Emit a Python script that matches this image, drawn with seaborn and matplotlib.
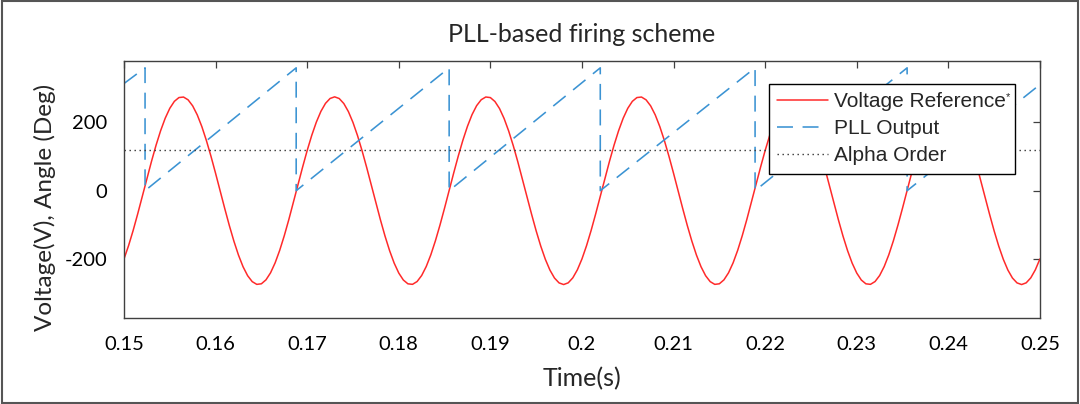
import numpy as np
import matplotlib
matplotlib.use("Agg")
import matplotlib.pyplot as plt
from matplotlib.patches import Rectangle
import seaborn as sns

# ---------------- data ----------------
# Voltage reference, sampled every 0.5 ms from 0.15 s to 0.25 s
volt_t0 = 0.15
volt_dt = 0.0005
voltage_ref = [
    -200.0, -161.1, -116.5, -67.7, -16.6, 35.1, 85.6, 133.1, 175.8, 212.3,
    241.3, 261.8, 272.9, 274.4, 266.2, 248.5, 222.1, 187.8, 146.8, 100.6,
    50.9, -0.7, -52.2, -101.9, -147.9, -188.7, -222.9, -249.1, -266.5, -274.5,
    -272.8, -261.3, -240.7, -211.5, -174.8, -131.9, -84.3, -33.8, 17.9, 69.0,
    117.7, 162.2, 200.9, 232.5, 255.9, 270.2, 275.0, 270.0, 255.4, 231.8,
    200.0, 161.1, 116.5, 67.7, 16.6, -35.1, -85.6, -133.1, -175.8, -212.3,
    -241.3, -261.8, -272.9, -274.4, -266.2, -248.5, -222.1, -187.8, -146.8, -100.6,
    -50.9, 0.7, 52.2, 101.9, 147.9, 188.7, 222.9, 249.1, 266.5, 274.5,
    272.8, 261.3, 240.7, 211.5, 174.8, 131.9, 84.3, 33.8, -17.9, -69.0,
    -117.7, -162.2, -200.9, -232.5, -255.9, -270.2, -275.0, -270.0, -255.4, -231.8,
    -200.0, -161.1, -116.5, -67.7, -16.6, 35.1, 85.6, 133.1, 175.8, 212.3,
    241.3, 261.8, 272.9, 274.4, 266.2, 248.5, 222.1, 187.8, 146.8, 100.6,
    50.9, -0.7, -52.2, -101.9, -147.9, -188.7, -222.9, -249.1, -266.5, -274.5,
    -272.8, -261.3, -240.7, -211.5, -174.8, -131.9, -84.3, -33.8, 17.9, 69.0,
    117.7, 162.2, 200.9, 232.5, 255.9, 270.2, 275.0, 270.0, 255.4, 231.8,
    200.0, 161.1, 116.5, 67.7, 16.6, -35.1, -85.6, -133.1, -175.8, -212.3,
    -241.3, -261.8, -272.9, -274.4, -266.2, -248.5, -222.1, -187.8, -146.8, -100.6,
    -50.9, 0.7, 52.2, 101.9, 147.9, 188.7, 222.9, 249.1, 266.5, 274.5,
    272.8, 261.3, 240.7, 211.5, 174.8, 131.9, 84.3, 33.8, -17.9, -69.0,
    -117.7, -162.2, -200.9, -232.5, -255.9, -270.2, -275.0, -270.0, -255.4, -231.8,
    -200.0,
]
voltage_time = np.round(volt_t0 + volt_dt * np.arange(len(voltage_ref)), 5)

# PLL output (sawtooth angle) vertices
pll_time = [0.15, 0.1523, 0.1523, 0.1688, 0.1688, 0.1855, 0.1855,
            0.2020, 0.2020, 0.2189, 0.2189, 0.2355, 0.2355, 0.25]
pll_angle = [314, 360, 0, 360, 0, 360, 0, 360, 0, 360, 0, 360, 0, 311]

# Alpha order (constant firing angle)
alpha_time = [0.15, 0.25]
alpha_angle = [120, 120]

series_labels = ["Voltage Reference", "PLL Output", "Alpha Order"]
x_ticks = [0.15, 0.16, 0.17, 0.18, 0.19, 0.20, 0.21, 0.22, 0.23, 0.24, 0.25]
x_tick_labels = ["0.15", "0.16", "0.17", "0.18", "0.19", "0.2",
                 "0.21", "0.22", "0.23", "0.24", "0.25"]
y_ticks = [-200, 0, 200]
y_tick_labels = ["-200", "0", "200"]

# ---------------- style ----------------
sns.set_style("white")
plt.rcParams["font.family"] = ["Lato", "DejaVu Sans"]

fig = plt.figure(figsize=(10.8, 4.04), dpi=100)
ax = fig.add_axes([0.1148, 0.2129, 0.8481, 0.6361])

sns.lineplot(x=voltage_time, y=voltage_ref, ax=ax, color="#ff2a2a",
             linewidth=1.1, sort=False, estimator=None,
             label=series_labels[0])
sns.lineplot(x=pll_time, y=pll_angle, ax=ax, color="#3b93d3",
             linewidth=1.15, sort=False, estimator=None,
             label=series_labels[1], linestyle=(0, (10, 6)))
sns.lineplot(x=alpha_time, y=alpha_angle, ax=ax, color="#333333",
             linewidth=1.0, sort=False, estimator=None,
             label=series_labels[2], linestyle=(0, (1, 2.6)))

ax.set_xlim(0.15, 0.25)
ax.set_ylim(-373, 380)
ax.set_xticks(x_ticks)
ax.set_xticklabels(x_tick_labels)
ax.set_yticks(y_ticks)
ax.set_yticklabels(y_tick_labels)

ax.tick_params(direction="in", length=5, width=0.9, color="#404040",
               top=True, right=True, labelsize=14.5, labelcolor="black")
ax.tick_params(axis="x", pad=13)
ax.tick_params(axis="y", pad=12)
for s in ax.spines.values():
    s.set_color("#404040")
    s.set_linewidth(1.0)

ax.set_title("PLL-based firing scheme", fontsize=18, pad=14)
ax.set_xlabel("Time(s)", fontsize=18, labelpad=10)
ax.set_ylabel("Voltage(V), Angle (Deg)", fontsize=17.5)
ax.yaxis.set_label_coords(-0.074, 0.43)

handles, labels = ax.get_legend_handles_labels()
leg = ax.legend(handles, labels, loc="upper left",
                bbox_to_anchor=(0.704, 0.91), borderaxespad=0,
                frameon=True, fancybox=False, framealpha=1,
                edgecolor="black",
                prop={"family": ["Liberation Sans", "DejaVu Sans"], "size": 15},
                handlelength=2.45, handletextpad=0.3, labelspacing=0.38,
                borderpad=0.4)
leg.get_frame().set_linewidth(1.0)

fig.text(1008 / 1080, 1 - 97 / 404, "*", fontsize=8, ha="center", va="center",
         family=["Liberation Sans", "DejaVu Sans"])

fig.patches.append(Rectangle((0.0015, 0.003), 0.997, 0.994,
                             transform=fig.transFigure, fill=False,
                             edgecolor="#555555", linewidth=1.5))

fig.savefig("out.png", dpi=100)
